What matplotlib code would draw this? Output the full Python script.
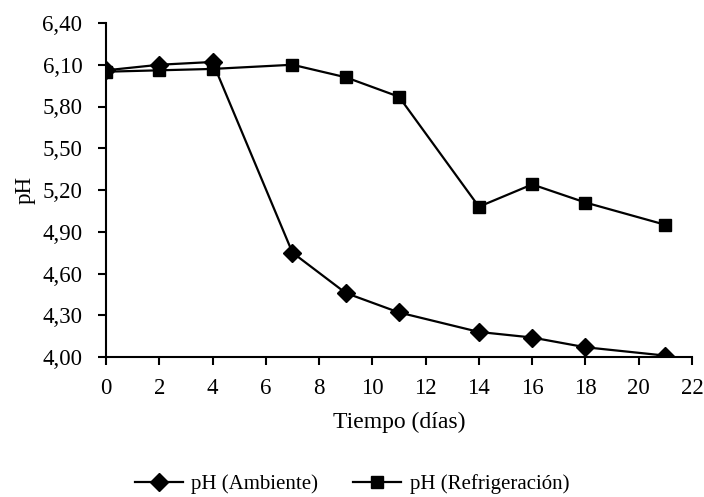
import matplotlib
matplotlib.use("Agg")
import matplotlib.pyplot as plt
from matplotlib.ticker import FuncFormatter

dias = [0, 2, 4, 7, 9, 11, 14, 16, 18, 21]
ph_ambiente = [6.06, 6.10, 6.12, 4.75, 4.46, 4.32, 4.18, 4.14, 4.07, 4.01]
ph_refrigeracion = [6.05, 6.06, 6.07, 6.10, 6.01, 5.87, 5.08, 5.24, 5.11, 4.95]
y_ticks = [4.00, 4.30, 4.60, 4.90, 5.20, 5.50, 5.80, 6.10, 6.40]
x_ticks = list(range(0, 23, 2))

plt.rcParams["font.family"] = ["Liberation Serif", "DejaVu Serif"]
plt.rcParams["font.size"] = 15

fig = plt.figure(figsize=(7.04, 4.97), dpi=100)
ax = fig.add_axes([106 / 704, 1 - 357 / 497, (692 - 106) / 704, (357 - 23) / 497])

ax.plot(dias, ph_ambiente, "-D", color="black", lw=1.6, ms=9.5, label="pH (Ambiente)")
ax.plot(dias, ph_refrigeracion, "-s", color="black", lw=1.6, ms=8.5, label="pH (Refrigeración)")

ax.set_xlim(0, 22)
ax.set_ylim(4.0, 6.4)
ax.set_xticks(x_ticks)
ax.set_yticks(y_ticks)
ax.yaxis.set_major_formatter(FuncFormatter(lambda v, p: f"{v:.2f}".replace(".", ",")))
ax.spines["top"].set_visible(False)
ax.spines["right"].set_visible(False)
for s in ("left", "bottom"):
    ax.spines[s].set_linewidth(1.5)
ax.tick_params(direction="out", length=6, width=1.5, labelsize=16.5)
ax.tick_params(axis="y", pad=11)
ax.tick_params(axis="x", pad=9)
ax.set_xlabel("Tiempo (días)", fontsize=17, labelpad=9)
ax.set_ylabel("pH", fontsize=16.5, labelpad=5)

ax.legend(loc="center", bbox_to_anchor=(0.5, 1 - 484 / 497), bbox_transform=fig.transFigure,
          ncol=2, frameon=False, handlelength=2.3, columnspacing=1.7, handletextpad=0.4)

fig.savefig("out.png", dpi=100)
